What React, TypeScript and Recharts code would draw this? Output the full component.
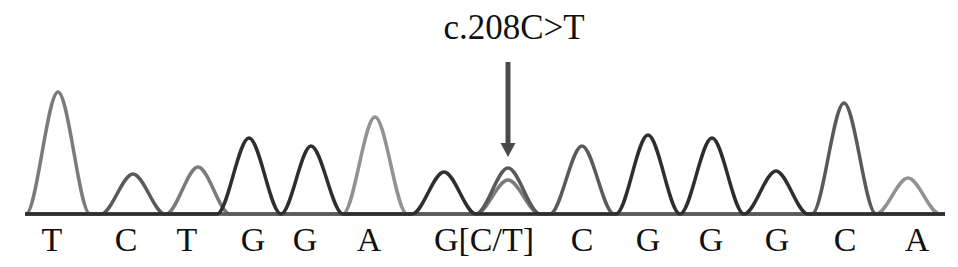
import React from 'react';
import { LineChart, Line, XAxis, YAxis, ReferenceLine, ReferenceDot } from 'recharts';

// trace peaks (position along the trace, height above baseline)
const peakBases = ['T', 'C', 'T', 'G', 'G', 'A', 'G', 'C', 'T', 'C', 'G', 'G', 'G', 'C', 'A'];
const peakPositions = [58, 133, 198, 249, 311, 375, 444, 508, 508, 582, 648, 712, 776, 844, 908];
const peakHeights = [122, 40, 47, 76, 68, 97, 42, 46, 34, 68, 79, 76, 43, 111, 36];
const peakHalfWidth = 32;
const traceStart = 25;
const traceEnd = 945;

// base calls under the trace
const callLabels = ['T', 'C', 'T', 'G', 'G', 'A', 'G[C/T]', 'C', 'G', 'G', 'G', 'C', 'A'];
const callPositions = [52, 126, 187, 253, 305, 369, 484, 582, 648, 711, 777, 845, 917];

const mutationName = 'c.208C>T';
const mutationPos = 508;

const baseColors: Record<string, string> = {
  A: '#929292',
  T: '#7b7b7b',
  C: '#5a5a5a',
  G: '#2e2e2e',
};
const drawOrder = ['A', 'T', 'C', 'G'];

const buildTrace = (base: string) => {
  const peaks = peakPositions
    .map((x, i) => ({ x, h: peakHeights[i], b: peakBases[i] }))
    .filter((p) => p.b === base)
    .sort((a, b) => a.x - b.x);
  const pts: { x: number; y: number }[] = [{ x: traceStart, y: 0 }];
  peaks.forEach((p) => {
    const last = pts[pts.length - 1].x;
    const left = Math.max(p.x - peakHalfWidth, last);
    if (left > last) pts.push({ x: left, y: 0 });
    pts.push({ x: p.x, y: p.h });
    pts.push({ x: p.x + peakHalfWidth, y: 0 });
  });
  if (pts[pts.length - 1].x < traceEnd) pts.push({ x: traceEnd, y: 0 });
  return pts;
};

const serif = '"Liberation Serif", "Times New Roman", serif';

const CallTick = (props: any) => {
  const { x, y, payload } = props;
  const i = callPositions.indexOf(payload.value);
  return (
    <text x={x} y={y + 29} textAnchor="middle" fontFamily={serif} fontSize={34} fill="#111">
      {callLabels[i]}
    </text>
  );
};

const ArrowHead = (props: any) => {
  const { cx, cy } = props;
  return <polygon points={`${cx - 7.5},${cy - 14} ${cx + 7.5},${cy - 14} ${cx},${cy}`} fill="#4a4a4a" />;
};

const MutationText = (props: any) => {
  const { cx, cy } = props;
  return (
    <text x={cx} y={cy} textAnchor="middle" fontFamily={serif} fontSize={35} fill="#111">
      {mutationName}
    </text>
  );
};

export default function App() {
  return (
    <div style={{ position: 'absolute', left: 0, top: 0, width: 958, height: 267, background: '#fff' }}>
      <LineChart width={958} height={267} margin={{ top: 0, right: 0, bottom: 0, left: 0 }}>
        <XAxis
          type="number"
          dataKey="x"
          domain={[0, 958]}
          ticks={callPositions}
          interval={0}
          tick={<CallTick />}
          axisLine={false}
          tickLine={false}
          height={53}
        />
        <YAxis hide type="number" domain={[0, 214]} />
        {drawOrder.map((b) => (
          <Line
            key={b}
            data={buildTrace(b)}
            dataKey="y"
            type="monotone"
            stroke={baseColors[b]}
            strokeWidth={3.5}
            dot={false}
            activeDot={false}
            isAnimationActive={false}
          />
        ))}
        <ReferenceLine
          segment={[
            { x: mutationPos, y: 152 },
            { x: mutationPos, y: 70 },
          ]}
          stroke="#4a4a4a"
          strokeWidth={5}
        />
        <ReferenceDot x={mutationPos} y={57} shape={<ArrowHead />} />
        <ReferenceDot x={514} y={175} shape={<MutationText />} />
      </LineChart>
    </div>
  );
}
